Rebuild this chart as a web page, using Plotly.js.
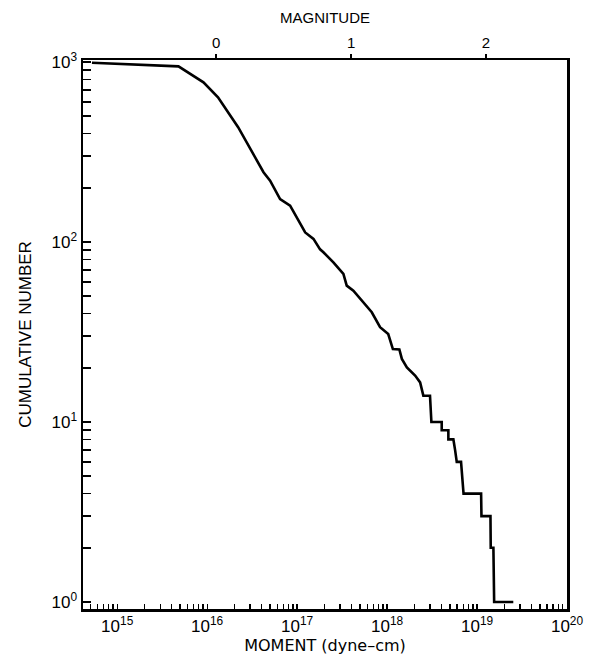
<!DOCTYPE html>
<html>
<head>
<meta charset="utf-8">
<script src="https://cdn.plot.ly/plotly-3.0.1.min.js"></script>
<style>html,body{margin:0;padding:0;background:#fff;}</style>
</head>
<body>
<div id="chart" style="width:596px;height:660px;"></div>
<script>
// Seismic moment (dyne-cm) and cumulative number of events
const moment = [5.24e14, 4.8e15, 9.1e15, 1.32e16, 2.21e16, 4.23e16, 5.01e16, 6.47e16, 8.36e16,
  1.23e17, 1.52e17, 1.80e17, 1.96e17, 2.53e17, 3.27e17, 3.56e17, 4.22e17, 5.24e17, 5.95e17,
  6.76e17, 8.36e17, 1.03e18, 1.16e18, 1.37e18, 1.46e18, 1.66e18, 2.05e18, 2.33e18, 2.53e18,
  3.0e18, 3.11e18, 4.05e18, 4.05e18, 4.80e18, 4.80e18, 5.46e18, 5.70e18, 5.95e18, 6.64e18,
  6.81e18, 7.08e18, 1.11e19, 1.12e19, 1.41e19, 1.42e19, 1.52e19, 1.55e19, 2.53e19];
const cumulative = [990, 945, 771, 637, 434, 244, 219, 173, 159,
  113, 104, 91, 87.7, 77, 66.4, 57.2, 53.6, 47.2, 43.4,
  40.7, 33.6, 30.8, 25.4, 25.3, 22.4, 20.1, 18.1, 16.6, 14,
  14, 10, 10, 9, 9, 8, 8, 7, 6, 6,
  5, 4, 4, 3, 3, 2, 2, 1, 1];

const momentExponents = [15, 16, 17, 18, 19, 20];
const countExponents = [0, 1, 2, 3];
const magnitudes = [0, 1, 2];
const magnitudeText = ['0', '1', '2'];

const pow10 = e => Math.pow(10, e);
const supLabel = e => '10<sup>' + e + '</sup>';
// sub-decade tick positions (2..9 in every decade between e0 and e1)
function subTicks(e0, e1) {
  const v = [];
  for (let e = e0; e < e1; e++) for (let k = 2; k <= 9; k++) v.push(k * pow10(e));
  return v;
}

// moment-magnitude relation used for the top axis: log10 M0 = 1.5 M + 16.1
const magMoments = magnitudes.map(m => pow10(1.5 * m + 16.1));

const font = {family: 'Liberation Sans, Arial, sans-serif', color: '#000'};
const wideFont = {family: 'DejaVu Sans, Verdana, sans-serif', color: '#000'};
const xRange = [14.62, 20];
const yRange = [-0.039, 3.011];

const traces = [
  {x: moment, y: cumulative, type: 'scatter', mode: 'lines',
   line: {color: '#000', width: 2.6}, hoverinfo: 'skip', showlegend: false},
  {x: moment, y: cumulative, xaxis: 'x2', type: 'scatter', mode: 'lines',
   line: {color: 'rgba(0,0,0,0)', width: 0}, hoverinfo: 'skip', showlegend: false}
];

const layout = {
  width: 596, height: 660,
  margin: {l: 83, r: 29, t: 60, b: 51},
  paper_bgcolor: '#fff', plot_bgcolor: '#fff',
  font: Object.assign({size: 13}, font),
  showlegend: false,
  xaxis: {
    type: 'log', range: xRange,
    tickmode: 'array', tickvals: momentExponents.map(pow10), ticktext: momentExponents.map(supLabel),
    ticks: 'inside', ticklen: 5, tickwidth: 1.3, tickcolor: '#000',
    minor: {tickmode: 'array', tickvals: subTicks(14, 20), ticks: 'inside', ticklen: 5,
            tickwidth: 1.2, tickcolor: '#000', showgrid: false},
    showline: true, linewidth: 2.5, linecolor: '#000', mirror: true,
    showgrid: false, zeroline: false,
    tickfont: Object.assign({size: 17}, font),
    title: {text: 'MOMENT (dyne\u2013cm)', font: Object.assign({size: 16}, wideFont), standoff: 3}
  },
  xaxis2: {
    type: 'log', range: xRange, overlaying: 'x', side: 'top',
    tickmode: 'array', tickvals: magMoments, ticktext: magnitudeText,
    ticks: 'outside', ticklen: 5, tickwidth: 1.5, tickcolor: '#000',
    showline: false, showgrid: false, zeroline: false,
    tickfont: Object.assign({size: 15}, font),
    title: {text: 'MAGNITUDE', font: Object.assign({size: 15}, font), standoff: 6}
  },
  yaxis: {
    type: 'log', range: yRange,
    tickmode: 'array', tickvals: countExponents.map(pow10), ticktext: countExponents.map(supLabel),
    ticks: 'inside', ticklen: 8, tickwidth: 1.5, tickcolor: '#000',
    minor: {tickmode: 'array', tickvals: subTicks(0, 3), ticks: 'inside', ticklen: 8,
            tickwidth: 1.5, tickcolor: '#000', showgrid: false},
    showline: true, linewidth: 2.5, linecolor: '#000', mirror: true,
    showgrid: false, zeroline: false,
    tickfont: Object.assign({size: 17}, font),
    title: {text: 'CUMULATIVE NUMBER', font: Object.assign({size: 17}, font), standoff: 16}
  }
};

Plotly.newPlot('chart', traces, layout, {displayModeBar: false, staticPlot: true});
</script>
</body>
</html>
